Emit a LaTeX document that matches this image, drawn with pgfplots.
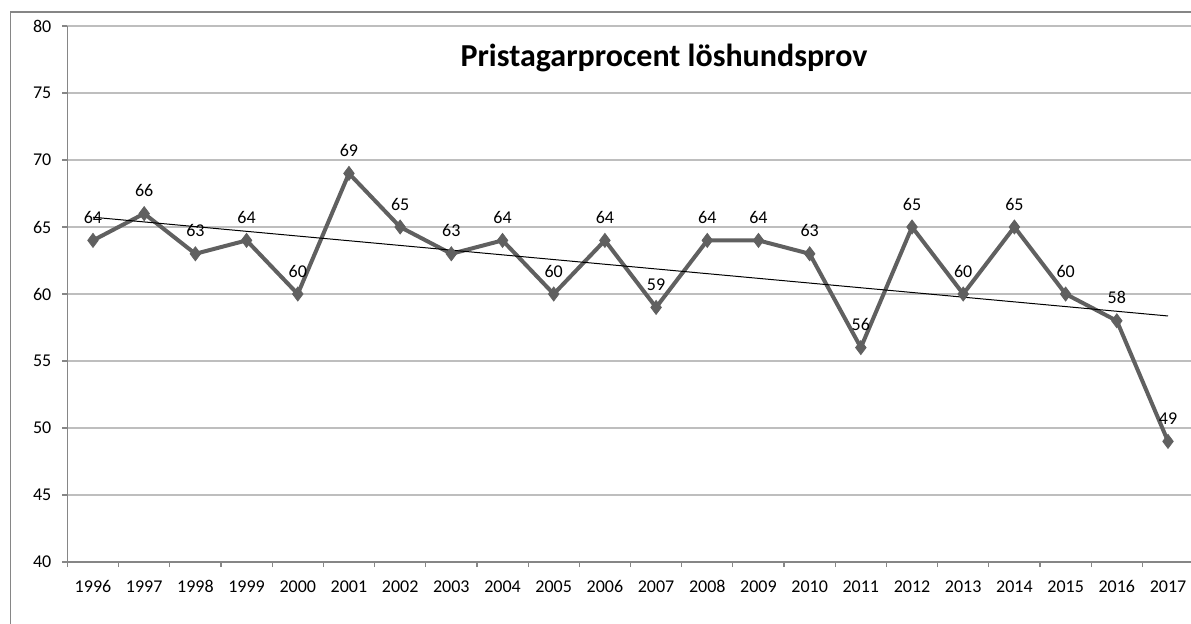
\documentclass[border=0pt]{standalone}
\usepackage{pgfplots}
\pgfplotsset{compat=1.18}
\usepackage{fontspec}
\setmainfont{Carlito}
\definecolor{linegray}{RGB}{96,96,96}
\definecolor{gridgray}{RGB}{190,190,190}
\definecolor{axgray}{RGB}{134,134,134}
\begin{document}
\begin{tikzpicture}[x=1pt,y=1pt]
\useasboundingbox (0,0) rectangle (595.5,311.5);
\clip (0,0) rectangle (595.5,311.5);
\draw[axgray, line width=0.8pt] (5.25,-20) rectangle (700,305.5);
\begin{axis}[
  at={(33.7pt,30.5pt)}, anchor=south west,
  width=563.1pt, height=268pt, scale only axis,
  xmin=-0.5, xmax=21.5, ymin=40, ymax=80,
  ytick={40,45,...,80}, ymajorgrids,
  grid style={gridgray, line width=0.6pt},
  axis x line*=bottom, axis y line*=left,
  axis line style={axgray, line width=0.6pt, -},
  xtick={0,...,21},
  xticklabels={1996,1997,1998,1999,2000,2001,2002,2003,2004,2005,2006,2007,2008,2009,2010,2011,2012,2013,2014,2015,2016,2017},
  major x tick style={draw=none},
  minor xtick={-0.5,0.5,...,21.5},
  tick align=outside, major tick length=2.5pt, minor tick length=2.5pt,
  tick style={axgray, line width=0.6pt},
  ticklabel style={font=\fontsize{9}{10}\selectfont},
  /pgf/number format/assume math mode=true,
  yticklabel style={xshift=-2pt},
  xticklabel style={yshift=-3pt, text height=6pt, text depth=0pt},
  clip=false,
]
\addplot[linegray, line width=2pt, mark=diamond*, mark size=3.5pt,
  mark options={fill=linegray, solid, line width=0.4pt},
  nodes near coords,
  every node near coord/.append style={anchor=center, yshift=11.5pt, text=black, font=\fontsize{9}{10}\selectfont}]
  table {
x y
0 64
1 66
2 63
3 64
4 60
5 69
6 65
7 63
8 64
9 60
10 64
11 59
12 64
13 64
14 63
15 56
16 65
17 60
18 65
19 60
20 58
21 49
};
\addplot[black, line width=0.5pt] coordinates {(0,65.73) (21,58.36)};
\end{axis}
\node[font=\bfseries\fontsize{16}{18}\selectfont] at (332,282.5) {Pristagarprocent löshundsprov};
\end{tikzpicture}
\end{document}
